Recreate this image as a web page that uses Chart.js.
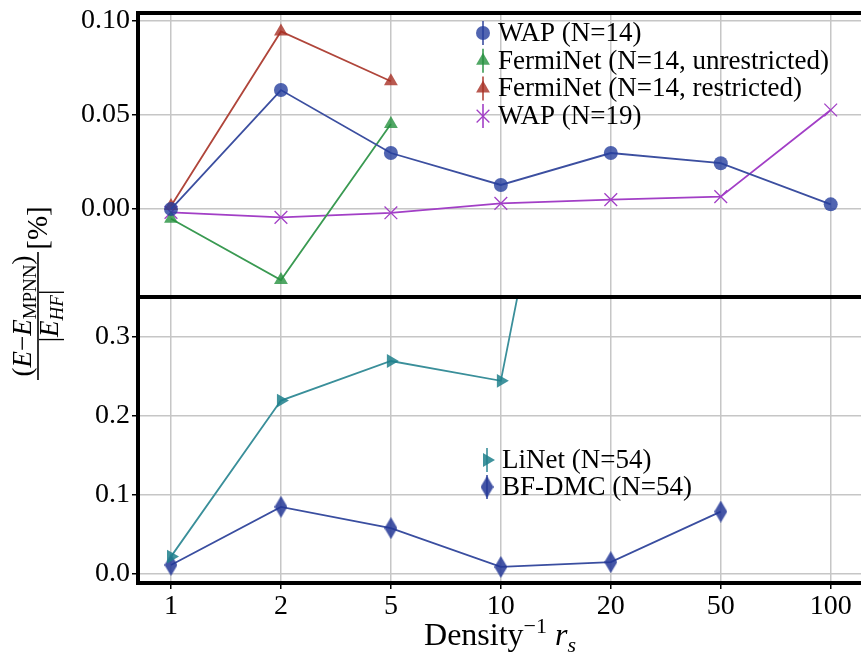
<!DOCTYPE html>
<html>
<head>
<meta charset="utf-8">
<script src="https://cdn.jsdelivr.net/npm/chart.js@4.4.1/dist/chart.umd.min.js"></script>
<style>
  html, body { margin: 0; padding: 0; background: #fff; overflow: hidden; }
  #wrap { width: 900px; height: 659px; }
</style>
</head>
<body>
<div id="wrap"><canvas id="chart" width="870" height="659"></canvas></div>
<script>
/* two stacked panels sharing one x axis: top = N=14/19, bottom = N=54 */

const xLabels = ['1', '2', '5', '10', '20', '50', '100'];
const topTicks = [0, 0.05, 0.10];
const bottomTicks = [0, 0.1, 0.2, 0.3];

const wap14 = [0.0, 0.0633, 0.0298, 0.0128, 0.0298, 0.0244, 0.0025];
const fermiUnrestricted = [-0.0052, -0.0378, 0.0452];
const fermiRestricted = [0.0016, 0.0945, 0.068];
const wap19 = [-0.0018, -0.0044, -0.0020, 0.0030, 0.0050, 0.0066, 0.0527];
const liNet = [0.022, 0.2195, 0.2696, 0.2445, 0.95];
const bfDmc = [0.0114, 0.085, 0.058, 0.0089, 0.015, 0.079];

const FONT = "'Liberation Serif', 'DejaVu Serif', serif";
const PLOT_RIGHT = 864; // right edge of the frame sits just past the window

const COLORS = {
  blue: '#3c4fa0',
  blueFill: 'rgba(38, 62, 158, 0.8)',
  green: '#3a9a52',
  greenFill: 'rgba(38, 145, 62, 0.8)',
  red: '#b0463b',
  redFill: 'rgba(168, 48, 36, 0.8)',
  purple: '#a23fc6',
  teal: '#3a8f9a',
  tealFill: 'rgba(30, 128, 140, 0.85)',
  navy: '#3a4ea0',
  navyFill: 'rgba(35, 55, 150, 0.85)',
  grid: '#c6c6c6',
};

function toPoints(values) {
  return values.map((v, i) => ({ x: i, y: v }));
}

function diamond(w, h, fill) {
  const c = document.createElement('canvas');
  c.width = w;
  c.height = h;
  const g = c.getContext('2d');
  g.fillStyle = fill;
  g.beginPath();
  g.moveTo(w / 2, 0);
  g.lineTo(w, h / 2);
  g.lineTo(w / 2, h);
  g.lineTo(0, h / 2);
  g.closePath();
  g.fill();
  return c;
}

function series(label, values, axis, line, fill, style, extra = {}) {
  return {
    label,
    data: toPoints(values),
    yAxisID: axis,
    borderColor: line,
    backgroundColor: fill,
    borderWidth: 1.8,
    pointStyle: style,
    pointRadius: 7,
    pointBackgroundColor: fill,
    pointBorderColor: fill,
    pointBorderWidth: 0,
    tension: 0,
    ...extra,
  };
}

const datasets = [
  series('WAP (N=14)', wap14, 'yTop', COLORS.blue, COLORS.blueFill, 'circle', { pointRadius: 7 }),
  series('FermiNet (N=14, unrestricted)', fermiUnrestricted, 'yTop', COLORS.green, COLORS.greenFill, 'triangle', { pointRadius: 8 }),
  series('FermiNet (N=14, restricted)', fermiRestricted, 'yTop', COLORS.red, COLORS.redFill, 'triangle', { pointRadius: 8 }),
  series('WAP (N=19)', wap19, 'yTop', COLORS.purple, COLORS.purple, 'crossRot', {
    pointRadius: 9, pointBorderColor: COLORS.purple, pointBorderWidth: 1.3,
  }),
  series('LiNet (N=54)', liNet, 'yBottom', COLORS.teal, COLORS.tealFill, 'triangle', {
    pointRadius: 8, pointRotation: 90, clip: { left: 10, right: 10, top: 0, bottom: 10 },
  }),
  series('BF-DMC (N=54)', bfDmc, 'yBottom', COLORS.navy, COLORS.navyFill, diamond(13, 22, COLORS.navyFill)),
];

// thick frame on top/right and the separator between the two panels
const framePlugin = {
  id: 'frame',
  afterDatasetsDraw(chart) {
    const { ctx, chartArea: a, scales } = chart;
    ctx.save();
    ctx.strokeStyle = '#000';
    ctx.lineWidth = 4;
    ctx.beginPath();
    ctx.moveTo(a.left - 2, a.top);
    ctx.lineTo(a.right, a.top);
    ctx.lineTo(a.right, a.bottom);
    const mid = scales.yBottom.top;
    ctx.moveTo(a.left - 2, mid);
    ctx.lineTo(a.right, mid);
    ctx.stroke();
    ctx.restore();
  },
};

// one legend per panel, marker with a small vertical error bar
const panelLegend = {
  id: 'panelLegend',
  afterDraw(chart, args, opts) {
    const { ctx } = chart;
    ctx.save();
    for (const grp of opts.groups) {
      const idx = chart.data.datasets
        .map((ds, i) => (ds.yAxisID === grp.axis ? i : -1))
        .filter(i => i >= 0);
      idx.forEach((i, row) => {
        const ds = chart.data.datasets[i];
        const y = grp.y + row * grp.rowGap;
        ctx.strokeStyle = ds.borderColor;
        ctx.lineWidth = 1.6;
        ctx.beginPath();
        ctx.moveTo(grp.x, y - 12);
        ctx.lineTo(grp.x, y + 12);
        ctx.stroke();
        ctx.fillStyle = ds.pointBackgroundColor;
        ctx.strokeStyle = ds.pointBorderColor;
        ctx.lineWidth = ds.pointBorderWidth || 0.01;
        Chart.helpers.drawPoint(ctx, {
          pointStyle: ds.pointStyle,
          radius: ds.pointRadius,
          rotation: ds.pointRotation || 0,
          borderWidth: ds.pointBorderWidth || 0,
        }, grp.x, y);
        ctx.fillStyle = '#000';
        ctx.font = `27px ${FONT}`;
        ctx.textAlign = 'left';
        ctx.textBaseline = 'middle';
        ctx.fillText(ds.label, grp.x + 15, y + 1);
      });
    }
    ctx.restore();
  },
};

// draw a run of [text, style] pieces, left to right from x
function drawRun(ctx, pieces, x, y, align) {
  const widths = pieces.map(p => {
    ctx.font = p.font;
    return ctx.measureText(p.text).width;
  });
  const total = widths.reduce((s, w) => s + w, 0);
  let cx = align === 'center' ? x - total / 2 : x;
  pieces.forEach((p, i) => {
    ctx.font = p.font;
    ctx.fillText(p.text, cx, y + (p.dy || 0));
    cx += widths[i];
  });
  return total;
}

const axisTitles = {
  id: 'axisTitles',
  afterDraw(chart) {
    const { ctx } = chart;
    const rm = `27px ${FONT}`;
    const it = `italic 27px ${FONT}`;
    const sub = `19px ${FONT}`;
    const subIt = `italic 19px ${FONT}`;
    ctx.save();
    ctx.fillStyle = '#000';
    ctx.textBaseline = 'alphabetic';
    ctx.textAlign = 'left';

    // x title: Density^-1 r_s
    drawRun(ctx, [
      { text: 'Density', font: `32px ${FONT}` },
      { text: '\u22121', font: `22px ${FONT}`, dy: -12 },
      { text: ' ', font: `32px ${FONT}` },
      { text: 'r', font: `italic 32px ${FONT}` },
      { text: 's', font: `italic 22px ${FONT}`, dy: 7 },
    ], 500, 645, 'center');

    // y title: fraction (E - E_MPNN) / |E_HF|  [%]
    ctx.translate(38, 316);
    ctx.rotate(-Math.PI / 2);
    drawRun(ctx, [
      { text: '(', font: rm },
      { text: 'E', font: it },
      { text: '\u2212', font: rm },
      { text: 'E', font: it },
      { text: 'MPNN', font: sub, dy: 5 },
      { text: ')', font: rm },
    ], 0, -7, 'center');
    drawRun(ctx, [
      { text: '|', font: rm },
      { text: 'E', font: it },
      { text: 'HF', font: subIt, dy: 5 },
      { text: '|', font: rm },
    ], 0, 20, 'center');
    ctx.lineWidth = 1.6;
    ctx.beginPath();
    ctx.moveTo(-64, 0);
    ctx.lineTo(64, 0);
    ctx.stroke();
    drawRun(ctx, [{ text: '[%]', font: `29px ${FONT}` }], 88, 9, 'center');
    ctx.restore();
  },
};

function yScale(ticks, min, max, digits, weight) {
  return {
    type: 'linear',
    position: 'left',
    stack: 'panels',
    stackWeight: weight,
    min,
    max,
    afterBuildTicks: s => { s.ticks = ticks.map(v => ({ value: v })); },
    afterFit: s => {
      s.width = 138;
      s.paddingTop = 0;
      s.paddingBottom = 0;
      s.paddingLeft = 0;
      s.paddingRight = 0;
    },
    grid: { color: COLORS.grid, lineWidth: 1.5, tickColor: '#000', tickLength: 6, tickWidth: 1.5 },
    border: { color: '#000', width: 4 },
    ticks: {
      padding: 2,
      color: '#000',
      font: { family: FONT, size: 28 },
      callback: v => v.toFixed(digits),
    },
  };
}

const chart = new Chart(document.getElementById('chart'), {
  type: 'line',
  data: { datasets },
  plugins: [framePlugin, panelLegend, axisTitles],
  options: {
    responsive: false,
    maintainAspectRatio: false,
    animation: false,
    layout: { padding: { top: 13, right: 0, left: 0, bottom: 0 } },
    plugins: {
      legend: { display: false },
      tooltip: { enabled: false },
      panelLegend: {
        groups: [
          { axis: 'yTop', x: 483, y: 33, rowGap: 27.7 },
          { axis: 'yBottom', x: 487, y: 460, rowGap: 27 },
        ],
      },
    },
    scales: {
      x: {
        type: 'linear',
        min: -0.3,
        max: 6.3,
        afterBuildTicks: s => { s.ticks = xLabels.map((_, i) => ({ value: i })); },
        afterFit: s => { s.height = 76; s.paddingLeft = 0; s.paddingRight = 0; },
        grid: { color: COLORS.grid, lineWidth: 1.5, tickColor: '#000', tickLength: 6, tickWidth: 1.5 },
        border: { color: '#000', width: 4 },
        ticks: {
          padding: 1,
          color: '#000',
          maxRotation: 0,
          font: { family: FONT, size: 28 },
          callback: v => xLabels[v],
        },
      },
      // in a left-hand stack the axis listed first ends up at the bottom
      yBottom: yScale(bottomTicks, -0.0114, 0.3506, 1, 286),
      yTop: yScale(topTicks, -0.0468, 0.1043, 2, 284),
    },
  },
});

// the layout keeps a few px on the right; widen the canvas so the frame lands off-screen
for (let k = 0; k < 3; k++) {
  const shortBy = Math.round(PLOT_RIGHT - chart.chartArea.right);
  if (shortBy === 0) break;
  chart.resize(chart.width + shortBy, 659);
}
</script>
</body>
</html>
